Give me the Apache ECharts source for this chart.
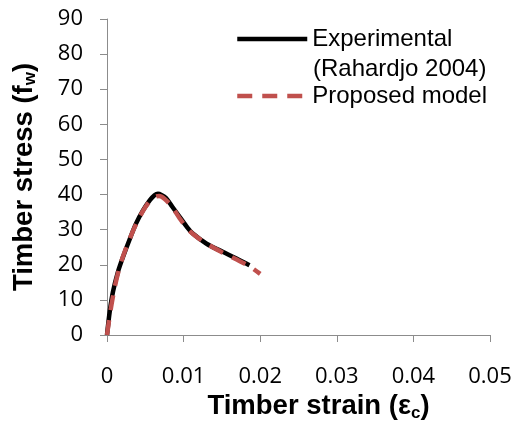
<!DOCTYPE html>
<html>
<head>
<meta charset="utf-8">
<script src="https://cdn.jsdelivr.net/npm/echarts@6/dist/echarts.min.js"></script>
<style>html,body{margin:0;padding:0;background:#fff;}#c{width:520px;height:423px;}</style>
</head>
<body>
<div id="c"></div>
<script>
// Experimental (Rahardjo 2004)
const expStrain = [0, 0.00035, 0.00078, 0.00143, 0.0021, 0.003, 0.0038, 0.0047, 0.0056, 0.0062, 0.00665, 0.0071, 0.0077, 0.0085, 0.0095, 0.0105, 0.0112, 0.013, 0.0151, 0.0169, 0.0186];
const expStress = [0, 6.6, 12.3, 18, 22.3, 27.5, 31.8, 35.5, 38.4, 39.8, 40.2, 39.9, 39.0, 36.6, 33.6, 30.6, 28.9, 26, 23.7, 21.8, 19.9];
// Proposed model
const modStrain = [0, 0.0005, 0.001, 0.0015, 0.002, 0.003, 0.004, 0.005, 0.006, 0.0068, 0.0075, 0.0085, 0.0095, 0.0105, 0.0115, 0.013, 0.015, 0.017, 0.0185, 0.02];
const modStress = [0, 7.5, 13.5, 18.2, 21.8, 27.6, 32.5, 36.4, 39, 39.6, 38.8, 36.5, 33.2, 30.3, 28.3, 26, 23.6, 21.4, 19.7, 17.4];
// Tick labels
const xTickLabels = ['0', '0.01', '0.02', '0.03', '0.04', '0.05'];
const yTickLabels = ['0', '10', '20', '30', '40', '50', '60', '70', '80', '90'];
const seriesNames = ['Experimental', 'Proposed model'];

const zip = (a, b) => a.map((v, i) => [v, b[i]]);
const axisColor = '#8c8c8c';
const chart = echarts.init(document.getElementById('c'));
chart.setOption({
  animation: false,
  backgroundColor: '#fff',
  grid: { left: 107, top: 19, right: 30, bottom: 88, containLabel: false, outerBoundsMode: 'none' },
  legend: {
    orient: 'vertical',
    left: 235,
    top: 27,
    padding: 0,
    itemWidth: 70,
    itemHeight: 16,
    itemGap: 33,
    data: seriesNames,
    itemStyle: { opacity: 0 },
    lineStyle: { width: 4.5 },
    textStyle: { fontFamily: 'Liberation Sans', fontSize: 24, color: '#000' }
  },
  graphic: [{
    type: 'text',
    left: 313,
    top: 57,
    style: { text: '(Rahardjo 2004)', font: '24px "Liberation Sans"', fill: '#000' }
  }],
  xAxis: {
    type: 'value',
    min: 0, max: 0.05, interval: 0.01,
    splitLine: { show: false },
    axisLine: { lineStyle: { color: axisColor, width: 1 } },
    axisTick: { show: true, length: 7, lineStyle: { color: axisColor } },
    axisLabel: {
      margin: 31, fontFamily: 'Open Sans', fontSize: 22, color: '#000',
      formatter: (v) => xTickLabels[Math.round(v / 0.01)]
    },
    name: 'Timber strain (ε{sub|c})',
    nameLocation: 'middle',
    nameGap: 38,
    nameTextStyle: {
      fontFamily: 'Liberation Sans', fontWeight: 'bold', fontSize: 27.5, color: '#000',
      padding: [0, 0, 0, 40],
      rich: { sub: { fontFamily: 'Liberation Sans', fontWeight: 'bold', fontSize: 17, verticalAlign: 'bottom', padding: [12, 0, 0, 0] } }
    }
  },
  yAxis: {
    type: 'value',
    min: 0, max: 90, interval: 10,
    splitLine: { show: false },
    axisLine: { show: true, lineStyle: { color: axisColor, width: 1 } },
    axisTick: { show: true, length: 7, lineStyle: { color: axisColor } },
    axisLabel: {
      margin: 24, fontFamily: 'Open Sans', fontSize: 22, color: '#000',
      formatter: (v) => yTickLabels[Math.round(v / 10)]
    },
    name: 'Timber stress (f{sub|w})',
    nameLocation: 'middle',
    nameRotate: 90,
    nameGap: 68,
    nameTextStyle: {
      fontFamily: 'Liberation Sans', fontWeight: 'bold', fontSize: 27.5, color: '#000',
      rich: { sub: { fontFamily: 'Liberation Sans', fontWeight: 'bold', fontSize: 17, verticalAlign: 'bottom', padding: [12, 0, 0, 0] } }
    }
  },
  series: [
    {
      name: seriesNames[0], type: 'line', data: zip(expStrain, expStress),
      smooth: 0.3, symbol: 'none',
      lineStyle: { color: '#000', width: 4.5 },
      itemStyle: { color: '#000' }
    },
    {
      name: seriesNames[1], type: 'line', data: zip(modStrain, modStress),
      smooth: 0.3, symbol: 'none',
      lineStyle: { color: '#C0504D', width: 4.5, type: [15, 10], cap: 'butt' },
      itemStyle: { color: '#C0504D' }
    }
  ]
});
</script>
</body>
</html>
